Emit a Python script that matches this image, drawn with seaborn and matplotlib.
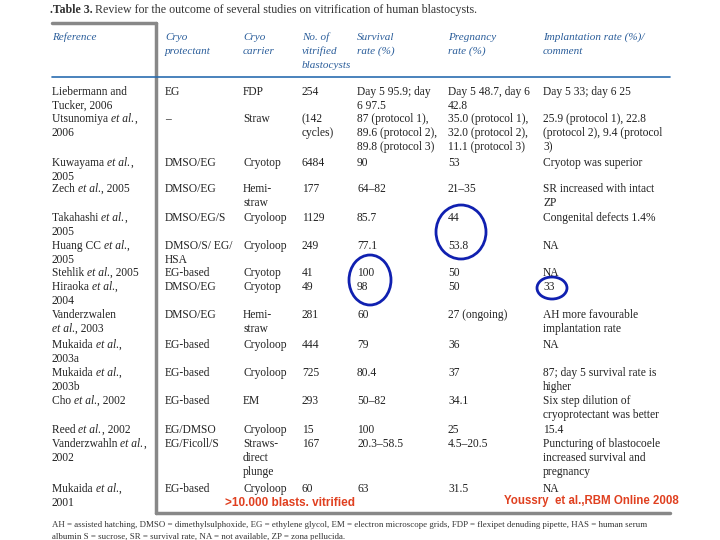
import matplotlib
matplotlib.use('Agg')
import matplotlib.pyplot as plt
from matplotlib.patches import Ellipse
import seaborn as sns

sns.set_theme(style='white')
plt.rcParams['font.family'] = ['Liberation Serif', 'DejaVu Serif']

# table content
headers = ['Reference', 'Cryo\nprotectant', 'Cryo\ncarrier', 'No. of\nvitrified\nblastocysts',
           'Survival\nrate (%)', 'Pregnancy\nrate (%)', 'Implantation rate (%)/\ncomment']
references = ['Liebermann and\nTucker, 2006', 'Utsunomiya et al.,\n2006', 'Kuwayama et al.,\n2005',
              'Zech et al., 2005', 'Takahashi et al.,\n2005', 'Huang CC et al.,\n2005',
              'Stehlik et al., 2005', 'Hiraoka et al.,\n2004', 'Vanderzwalen\net al., 2003',
              'Mukaida et al.,\n2003a', 'Mukaida et al.,\n2003b', 'Cho et al., 2002',
              'Reed et al., 2002', 'Vanderzwahln et al.,\n2002', 'Mukaida et al.,\n2001']
protectant = ['EG', '\u2013', 'DMSO/EG', 'DMSO/EG', 'DMSO/EG/S', 'DMSO/S/ EG/\nHSA', 'EG-based', 'DMSO/EG',
              'DMSO/EG', 'EG-based', 'EG-based', 'EG-based', 'EG/DMSO', 'EG/Ficoll/S', 'EG-based']
carrier = ['FDP', 'Straw', 'Cryotop', 'Hemi-\nstraw', 'Cryoloop', 'Cryoloop', 'Cryotop', 'Cryotop',
           'Hemi-\nstraw', 'Cryoloop', 'Cryoloop', 'EM', 'Cryoloop', 'Straws-\ndirect\nplunge', 'Cryoloop']
n_vitrified = ['254', '(142\ncycles)', '6484', '177', '1129', '249', '41', '49', '281', '444', '725',
               '293', '15', '167', '60']
survival = ['Day 5 95.9; day\n6 97.5', '87 (protocol 1),\n89.6 (protocol 2),\n89.8 (protocol 3)', '90',
            '64\u201382', '85.7', '77.1', '100', '98', '60', '79', '80.4', '50\u201382', '100',
            '20.3\u201358.5', '63']
pregnancy = ['Day 5 48.7, day 6\n42.8', '35.0 (protocol 1),\n32.0 (protocol 2),\n11.1 (protocol 3)', '53',
             '21\u201335', '44', '53.8', '50', '50', '27 (ongoing)', '36', '37', '34.1', '25',
             '4.5\u201320.5', '31.5']
implantation = ['Day 5 33; day 6 25', '25.9 (protocol 1), 22.8\n(protocol 2), 9.4 (protocol\n3)',
                'Cryotop was superior', 'SR increased with intact\nZP', 'Congenital defects 1.4%', 'NA', 'NA',
                '33', 'AH more favourable\nimplantation rate', 'NA', '87; day 5 survival rate is\nhigher',
                'Six step dilution of\ncryoprotectant was better', '15.4',
                'Puncturing of blastocoele\nincreased survival and\npregnancy', 'NA']
columns = [references, protectant, carrier, n_vitrified, survival, pregnancy, implantation]

# layout
col_x = [52, 165, 243, 302, 357, 448, 543]
row_y = [92, 119, 163, 189, 218, 246, 273, 287, 315, 345, 373, 401, 430, 444, 489]
LH = 14
FS = 8.3

fig = plt.figure(figsize=(7.2, 5.4), dpi=100)
ax = fig.add_axes([0, 0, 1, 1])
ax.set_xlim(0, 720)
ax.set_ylim(540, 0)
ax.axis('off')
fig.canvas.draw()
renderer = fig.canvas.get_renderer()
inv = ax.transData.inverted()


def draw_line(x, y, s):
    # plain text with "et al." set in italic
    parts = s.split('et al.')
    for i, p in enumerate(parts):
        segs = [(p, 'normal')]
        if i < len(parts) - 1:
            segs.append(('et al.', 'italic'))
        for txt, st in segs:
            if not txt:
                continue
            t = ax.text(x, y, txt, fontsize=FS, style=st, color='#222', va='center')
            bb = t.get_window_extent(renderer)
            x = inv.transform((bb.x1, bb.y0))[0]


ax.text(50, 10, '.Table 3.', fontsize=8.6, fontweight='bold', color='#333', va='center')
ax.text(95, 10, 'Review for the outcome of several studies on vitrification of human blastocysts.',
        fontsize=8.6, color='#333', va='center')

for x, h in zip(col_x, headers):
    for k, line in enumerate(h.split('\n')):
        ax.text(x, 37 + k * LH, line, fontsize=8.0, style='italic', color='#2a5d9a', va='center')

for x, col in zip(col_x, columns):
    for y, v in zip(row_y, col):
        for k, line in enumerate(v.split('\n')):
            draw_line(x, y + k * LH, line)

ax.plot([52, 156], [23, 23], color='#888', lw=2.5)
ax.plot([156, 156], [23, 513], color='#888', lw=2.5)
ax.plot([156, 670], [513, 513], color='#888', lw=2.5)
ax.plot([52, 670], [77, 77], color='#2a6db0', lw=1.2)

for cx, cy, w, h in [(461, 232, 50, 54), (370, 280, 42, 50), (552, 288, 30, 22)]:
    ax.add_patch(Ellipse((cx, cy), w, h, fill=False, ec='#1020b0', lw=2))

ax.text(225, 503, '>10.000 blasts. vitrified', fontsize=8.5, fontweight='bold', color='#e04020',
        family='Liberation Sans', va='center')
ax.text(504, 501, 'Youssry  et al.,RBM Online 2008', fontsize=8.3, fontweight='bold', color='#e04020',
        family='Liberation Sans', va='center')

ax.text(52, 525, 'AH = assisted hatching, DMSO = dimethylsulphoxide, EG = ethylene glycol, EM = electron '
        'microscope grids, FDP = flexipet denuding pipette, HAS = human serum', fontsize=6.4, color='#333',
        va='center')
ax.text(52, 537, 'albumin S = sucrose, SR = survival rate, NA = not available, ZP = zona pellucida.',
        fontsize=6.4, color='#333', va='center')

fig.savefig('out.png', dpi=100)
